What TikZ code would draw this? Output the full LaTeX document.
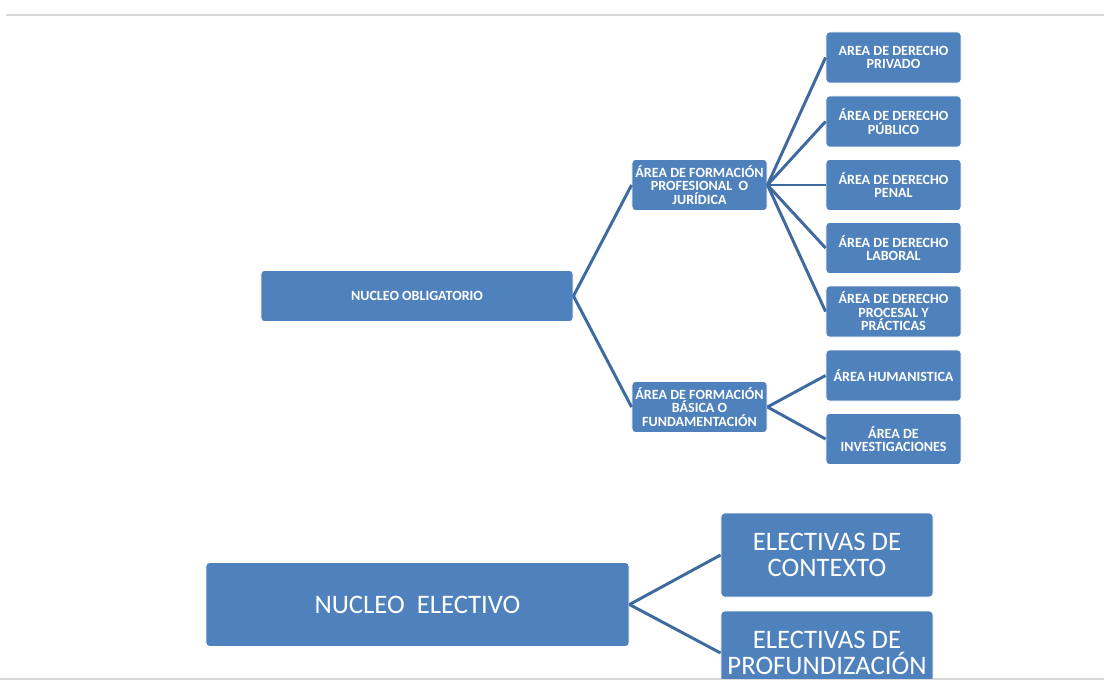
\documentclass[tikz,border=0pt]{standalone}
\usepackage{fontspec}
\setmainfont{Carlito}
\usetikzlibrary{positioning}
\definecolor{boxblue}{RGB}{79,129,189}
\definecolor{linkblue}{RGB}{62,106,160}
\definecolor{rulegray}{RGB}{217,217,217}

\begin{document}
\begin{tikzpicture}[x=0.025cm, y=-0.025cm,
    box/.style={draw=white, line width=0.6pt, fill=boxblue, rounded corners=2.5pt, text=white, align=center, inner sep=1pt},
    area/.style={box, minimum width=3.375cm, minimum height=1.28cm, font=\fontsize{10}{9.6}\selectfont\bfseries},
    elect/.style={box, minimum width=5.3cm, minimum height=2.1cm, font=\fontsize{19}{18}\selectfont},
    link/.style={draw=linkblue, line width=2.1pt}]
    \useasboundingbox (0,0) rectangle (1104,680);
    \draw[rulegray, line width=1.5pt] (6,15) -- (1104,15);
    \draw[rulegray, line width=1pt] (0,679) -- (1104,679);

    \begin{scope}
    \clip (0,0) rectangle (1104,678.5);
    % nucleo obligatorio
    \node[area, minimum width=7.8cm] (nob) at (417,296) {NUCLEO OBLIGATORIO};
    \node[area] (pro) at (699.5,185) {ÁREA DE FORMACIÓN\\PROFESIONAL~ O\\JURÍDICA};
    \node[area] (bas) at (699.5,407) {ÁREA DE FORMACIÓN\\BÁSICA O\\FUNDAMENTACIÓN};
    \node[area] (priv) at (893.5,57.5) {AREA DE DERECHO\\PRIVADO};
    \node[area] (pub) at (893.5,121.5) {ÁREA DE DERECHO\\PÚBLICO};
    \node[area] (pen) at (893.5,185) {ÁREA DE DERECHO\\PENAL};
    \node[area] (lab) at (893.5,248) {ÁREA DE DERECHO\\LABORAL};
    \node[area] (proc) at (893.5,311.5) {ÁREA DE DERECHO\\PROCESAL Y\\PRÁCTICAS};
    \node[area] (hum) at (893.5,375.5) {ÁREA HUMANISTICA};
    \node[area] (inv) at (893.5,439) {ÁREA DE\\INVESTIGACIONES};

    \draw[link] (nob.east) -- (pro.west);
    \draw[link] (nob.east) -- (bas.west);
    \foreach \c in {priv, pub, pen, lab, proc}
        \draw[link] (pro.east) -- (\c.west);
    \draw[link] (bas.east) -- (hum.west);
    \draw[link] (bas.east) -- (inv.west);

    % nucleo electivo
    \node[elect, minimum width=10.575cm] (nel) at (417.5,604.5) {NUCLEO\ \ ELECTIVO};
    \node[elect] (ctx) at (827,555) {ELECTIVAS DE\\CONTEXTO};
    \node[elect] (prf) at (827,653) {ELECTIVAS DE\\PROFUNDIZACIÓN};
    \draw[link] (nel.east) -- (ctx.west);
    \draw[link] (nel.east) -- (prf.west);
    \end{scope}
\end{tikzpicture}
\end{document}
